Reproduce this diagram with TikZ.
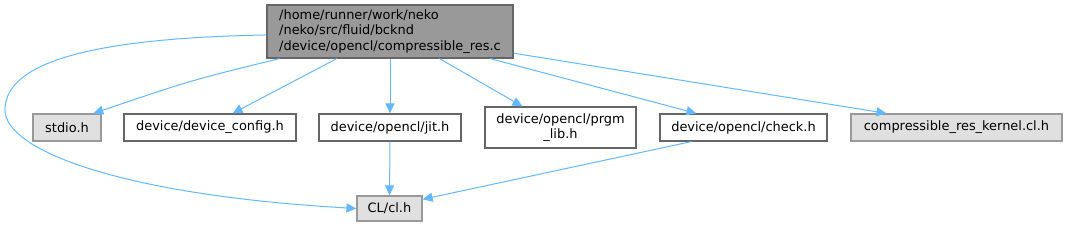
\documentclass[tikz,border=0pt]{standalone}
\usepackage{fontspec}
\setmainfont{DejaVu Sans}
\usepackage{xcolor}
\usepackage{tikz}
\usetikzlibrary{arrows.meta,calc}
\definecolor{edgeblue}{HTML}{63B8FF}
\definecolor{rootfill}{HTML}{999999}
\definecolor{boxline}{HTML}{666666}
\definecolor{extfill}{HTML}{E0E0E0}
\definecolor{extline}{HTML}{999999}
\tikzset{
	hdr/.style={draw=boxline, line width=0.9pt, fill=white, inner sep=0pt,
		minimum height=20.25pt, align=center, font=\fontsize{9.7pt}{11.6pt}\selectfont},
	root/.style={hdr, fill=rootfill, align=left},
	ext/.style={hdr, draw=extline, fill=extfill},
	dep/.style={draw=edgeblue, line width=0.75pt, -{Triangle[length=7.5pt,width=6.8pt]}},
}
\begin{document}
\begin{tikzpicture}[x=0.75pt, y=-0.75pt]
	\useasboundingbox (0,0) rectangle (1068,227);
	\node[root, minimum width=184.5pt, minimum height=39.75pt] at (390,31.5) (src) {/home/runner/work/neko\\/neko/src/fluid/bcknd\\/device/opencl/compressible\_res.c};
	\node[ext, minimum width=51pt] at (67,127.5) (stdio) {stdio.h};
	\node[hdr, minimum width=129pt] at (210,127.5) (cfg) {device/device\_config.h};
	\node[hdr, minimum width=106.5pt] at (390,127.5) (jit) {device/opencl/jit.h};
	\node[hdr, minimum width=113.25pt, minimum height=30.75pt] at (560.5,127.5) (prgm) {device/opencl/prgm\\\_lib.h};
	\node[hdr, minimum width=125.25pt] at (743.5,127.5) (chk) {device/opencl/check.h};
	\node[ext, minimum width=158.25pt] at (956.5,127.5) (kern) {compressible\_res\_kernel.cl.h};
	\node[ext, minimum width=48.75pt, minimum height=18.75pt] at (389.5,208.5) (cl) {CL/cl.h};
	\coordinate (bend) at (5,110);
	% includes of the source file
	\draw[dep] ($(src.south west)!0.053!(src.south east)$) .. controls (192,80) .. ($(stdio.north west)!0.88!(stdio.north east)$);
	\draw[dep] ($(src.south west)!0.285!(src.south east)$) -- ($(cfg.north west)!0.63!(cfg.north east)$);
	\draw[dep] (src.south) -- (jit.north);
	\draw[dep] ($(src.south west)!0.70!(src.south east)$) -- ($(prgm.north west)!0.25!(prgm.north east)$);
	\draw[dep] ($(src.south west)!0.905!(src.south east)$) -- ($(chk.north west)!0.22!(chk.north east)$);
	\draw[dep] ($(src.north east)!0.9!(src.south east)$) -- ($(kern.north west)!0.17!(kern.north east)$);
	\draw[dep] ([yshift=-2.6pt]src.west) .. controls (100,38) and (5,60) .. (bend) .. controls (5,150) and (120,195) .. (cl.west);
	% second level
	\draw[dep] (jit.south) -- (cl.north);
	\draw[dep] ($(chk.south west)!0.19!(chk.south east)$) -- ($(cl.north east)!0.15!(cl.south east)$);
\end{tikzpicture}
\end{document}
